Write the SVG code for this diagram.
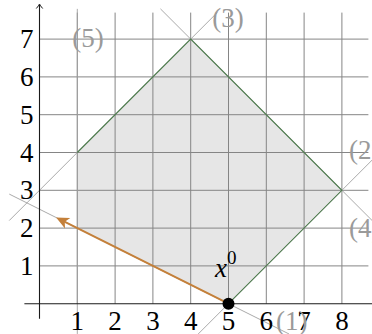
<svg xmlns="http://www.w3.org/2000/svg" width="372" height="334" viewBox="0 0 372 334">
<style>
.grid{stroke:#858585;stroke-width:1;fill:none}
.con{stroke:#a0a0a0;stroke-width:0.9;fill:none}
.edge{stroke:#4f7d4f;stroke-width:1.1;fill:none}
.axis{stroke:#1a1a1a;stroke-width:1.1;fill:none}
.tick{fill:#000}
.lab{fill:#9a9a9a}
</style>
<defs>
<marker id="axarrow" markerUnits="userSpaceOnUse" markerWidth="12" markerHeight="12" refX="0" refY="0" viewBox="-5 -6 10 12" orient="auto" overflow="visible">
<path d="M-3.5,-3.2 Q-0.5,-0.6 1,0 Q-0.5,0.6 -3.5,3.2" stroke="#1a1a1a" stroke-width="1" fill="none"/>
</marker>
<marker id="orarrow" markerUnits="userSpaceOnUse" markerWidth="14" markerHeight="14" refX="6" refY="0" viewBox="0 -6 13 12" orient="auto" overflow="visible">
<path d="M12,0 L0,-5.5 L3,0 L0,5.5 Z" fill="#c4803a"/>
</marker>
</defs>
<g id="region">
<polygon points="77.3,228.1 77.3,152.5 190.7,39.1 341.9,190.3 228.5,303.7" fill="#e6e6e6"/>
</g>
<g id="grid" class="grid">
<path d="M77.3,303.7V12.6M115.1,303.7V12.6M152.9,303.7V12.6M190.7,303.7V12.6M228.5,303.7V12.6M266.3,303.7V12.6M304.1,303.7V12.6M341.9,303.7V12.6"/>
<path d="M39.5,265.9H368.4M39.5,228.1H368.4M39.5,190.3H368.4M39.5,152.5H368.4M39.5,114.7H368.4M39.5,76.9H368.4M39.5,39.1H368.4"/>
</g>
<g id="constraints">
<line id="c1" class="con" x1="9.26" y1="194.08" x2="288.98" y2="333.94"/>
<line id="c2" class="con" x1="198.26" y1="333.94" x2="387.26" y2="144.94"/>
<line id="c3" class="con" x1="9.26" y1="220.54" x2="217.16" y2="12.64"/>
<line id="c4" class="con" x1="160.46" y1="8.86" x2="387.26" y2="235.66"/>
<line id="c5" class="con" x1="77.3" y1="333.94" x2="77.3" y2="8.86"/>
</g>
<g id="edges" class="edge">
<polyline points="77.3,152.5 190.7,39.1 341.9,190.3 228.5,303.7"/>
</g>
<g id="axes">
<line class="axis" x1="24.38" y1="303.7" x2="375.9" y2="303.7" marker-end="url(#axarrow)"/>
<line class="axis" x1="39.5" y1="318.8" x2="39.5" y2="5" marker-end="url(#axarrow)"/>
</g>
<g id="ticks" class="tick" font-family="Liberation Serif, DejaVu Serif, serif" font-size="27">
<text x="77.3" y="330" text-anchor="middle">1</text>
<text x="115.1" y="330" text-anchor="middle">2</text>
<text x="152.9" y="330" text-anchor="middle">3</text>
<text x="190.7" y="330" text-anchor="middle">4</text>
<text x="228.5" y="330" text-anchor="middle">5</text>
<text x="266.3" y="330" text-anchor="middle">6</text>
<text x="304.1" y="330" text-anchor="middle">7</text>
<text x="341.9" y="330" text-anchor="middle">8</text>
<text x="33.5" y="274.9" text-anchor="end">1</text>
<text x="33.5" y="237.1" text-anchor="end">2</text>
<text x="33.5" y="199.3" text-anchor="end">3</text>
<text x="33.5" y="161.5" text-anchor="end">4</text>
<text x="33.5" y="123.7" text-anchor="end">5</text>
<text x="33.5" y="85.9" text-anchor="end">6</text>
<text x="33.5" y="48.1" text-anchor="end">7</text>
</g>
<g id="labels" class="lab" font-family="Liberation Serif, DejaVu Serif, serif" font-size="27">
<text x="88" y="47" text-anchor="middle">(5)</text>
<text x="228" y="27" text-anchor="middle">(3)</text>
<text x="349" y="159">(2)</text>
<text x="349" y="237">(4)</text>
<text x="276" y="330">(1)</text>
</g>
<g id="connectors">
<line x1="228.5" y1="303.7" x2="61.87" y2="220.38" stroke="#c4803a" stroke-width="2" marker-end="url(#orarrow)"/>
</g>
<g id="x0">
<circle cx="228.5" cy="303.7" r="6" fill="#000"/>
<text x="215" y="277" font-family="Liberation Serif, DejaVu Serif, serif" font-size="27" font-style="italic">x<tspan font-style="normal" font-size="19" dy="-13">0</tspan></text>
</g>
</svg>
